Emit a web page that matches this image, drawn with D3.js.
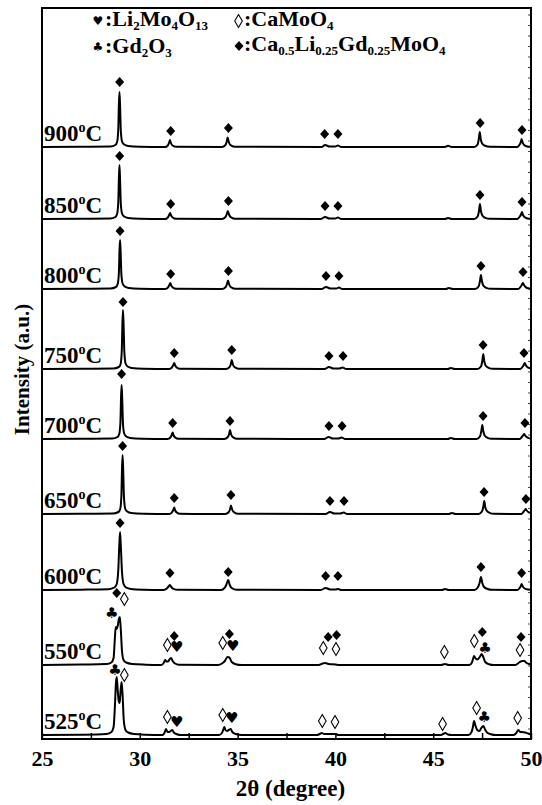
<!DOCTYPE html>
<html>
<head>
<meta charset="utf-8">
<script src="https://cdn.jsdelivr.net/npm/d3@7"></script>
<style>
body { margin: 0; background: #fff; }
text { font-family: "Liberation Serif", "Times New Roman", serif; font-weight: bold; fill: #000; }
</style>
</head>
<body>
<div id="chart"></div>
<script>
// ---- data ----
var thetaTicks = [25, 30, 35, 40, 45, 50];
var tempLabels = ["900", "850", "800", "750", "700", "650", "600", "550", "525"];
// vertical stacking offset of every scan (a.u.)
var offsets = [592, 520, 450, 370, 300, 225, 149, 74, 4];

// scans: [2theta, intensity above own baseline]
var s900 = [[25,0],[27,0.3],[28.5,0.5],[28.75,2],[28.84,5],[28.9,18],[28.93,42],[28.96,55],[28.99,42],[29.03,16],[29.1,5],[29.2,2.5],[29.4,1],[30,0.3],
	[31.3,0],[31.43,1.5],[31.5,4.5],[31.54,7],[31.59,4],[31.67,1.5],[31.85,0.2],
	[34.2,0],[34.37,1.8],[34.44,5],[34.49,9.5],[34.55,5],[34.63,2],[34.85,0.3],
	[39.3,0],[39.47,2],[39.7,0.5],[40.0,0.5],[40.13,1.5],[40.3,0],
	[45.6,0],[45.76,1.2],[45.95,0],
	[47.1,0],[47.27,2.5],[47.33,8],[47.38,15],[47.43,8],[47.5,3.5],[47.65,1.2],[47.9,0.2],
	[49.3,0],[49.42,2.5],[49.48,5],[49.52,8],[49.57,4.5],[49.65,2],[49.8,0.5],[50,0]];
var s850 = [[25,0],[27,0.3],[28.5,0.5],[28.75,2],[28.84,5],[28.9,17],[28.93,40],[28.96,54],[28.99,40],[29.03,15],[29.1,5],[29.2,2.5],[29.4,1],[30,0.3],
	[31.3,0],[31.43,1.5],[31.5,4],[31.55,6],[31.6,3.5],[31.68,1.5],[31.85,0.2],
	[34.2,0],[34.37,1.8],[34.44,4.5],[34.5,8],[34.56,4.5],[34.64,2],[34.85,0.3],
	[39.25,0],[39.47,2],[39.7,0.5],[40.0,0.5],[40.13,1.5],[40.3,0],
	[45.6,0],[45.76,1],[45.95,0],
	[47.1,0],[47.27,2.5],[47.34,8],[47.39,15],[47.44,8],[47.51,3.5],[47.66,1.2],[47.9,0.2],
	[49.3,0],[49.43,2.5],[49.49,4.5],[49.54,7],[49.59,4],[49.67,2],[49.82,0.5],[50,0]];
var s800 = [[25,0],[27,0.3],[28.5,0.5],[28.78,2],[28.87,5],[28.93,16],[28.96,37],[28.99,49],[29.02,37],[29.06,14],[29.13,5],[29.23,2.5],[29.43,1],[30,0.3],
	[31.3,0],[31.44,1.5],[31.51,4],[31.56,6],[31.61,3.5],[31.69,1.5],[31.86,0.2],
	[34.2,0],[34.38,1.8],[34.45,4.5],[34.51,8.5],[34.57,4.5],[34.65,2],[34.86,0.3],
	[39.3,0],[39.52,2],[39.75,0.5],[40.05,0.5],[40.18,1.5],[40.35,0],
	[45.65,0],[45.8,1],[46,0],
	[47.15,0],[47.32,2.5],[47.39,8],[47.44,14],[47.49,8],[47.56,3.5],[47.71,1.2],[47.95,0.2],
	[49.35,0],[49.48,2.5],[49.54,4.5],[49.59,6],[49.64,4],[49.72,2],[49.87,0.5],[50,0]];
var s750 = [[25,0],[27,0.3],[28.65,0.5],[28.93,2],[29.02,5],[29.08,19],[29.11,45],[29.14,59],[29.17,45],[29.21,17],[29.28,5],[29.38,2.5],[29.58,1],[30.2,0.3],
	[31.5,0],[31.64,1.5],[31.71,4],[31.76,6],[31.81,3.5],[31.89,1.5],[32.05,0.2],
	[34.4,0],[34.58,1.8],[34.65,4.5],[34.7,9],[34.76,4.5],[34.84,2],[35.05,0.3],
	[39.45,0],[39.67,2],[39.9,0.5],[40.2,0.5],[40.37,1.5],[40.55,0],
	[45.75,0],[45.9,1],[46.1,0],
	[47.27,0],[47.44,2.5],[47.51,8],[47.56,15],[47.61,8],[47.68,3.5],[47.83,1.2],[48.05,0.2],
	[49.45,0],[49.58,2.5],[49.64,4.5],[49.68,6],[49.73,4],[49.81,2],[49.95,0.8],[50,0.5]];
var s700 = [[25,0],[27,0.3],[28.6,0.5],[28.86,2],[28.95,5],[29.01,17],[29.04,41],[29.07,54],[29.1,41],[29.14,15],[29.21,5],[29.31,2.5],[29.51,1],[30.1,0.3],
	[31.42,0],[31.56,1.5],[31.63,4],[31.68,6.5],[31.73,3.5],[31.81,1.5],[31.97,0.2],
	[34.32,0],[34.49,1.8],[34.56,4.5],[34.61,9],[34.67,4.5],[34.75,2],[34.95,0.3],
	[39.43,0],[39.65,2],[39.87,0.5],[40.15,0.5],[40.32,1.5],[40.5,0],
	[45.75,0],[45.9,1],[46.1,0],
	[47.22,0],[47.39,2.5],[47.46,8],[47.51,14],[47.56,8],[47.63,3.5],[47.78,1.2],[48,0.2],
	[49.42,0],[49.55,2.5],[49.61,4],[49.65,5],[49.7,3.5],[49.78,2],[49.92,0.6],[50,0.4]];
var s650 = [[25,0],[27,0.3],[28.63,0.5],[28.91,2],[29.0,5],[29.06,19],[29.09,45],[29.12,59],[29.15,45],[29.19,17],[29.26,5],[29.36,2.5],[29.56,1],[30.2,0.3],
	[31.5,0],[31.64,1.5],[31.71,4],[31.76,6.5],[31.81,3.5],[31.89,1.5],[32.05,0.2],
	[34.37,0],[34.54,1.8],[34.61,4.5],[34.66,8.5],[34.72,4.5],[34.8,2],[35,0.3],
	[39.5,0],[39.72,2],[39.95,0.5],[40.25,0.5],[40.42,1.5],[40.6,0],
	[45.8,0],[45.95,1],[46.15,0],
	[47.32,0],[47.49,2.5],[47.56,7],[47.61,13],[47.66,7],[47.73,3.5],[47.88,1.2],[48.1,0.2],
	[49.5,0],[49.63,2.5],[49.69,4],[49.73,5],[49.78,3.5],[49.86,2],[50,0.8]];
var s600 = [[25,0],[27,0.3],[28.4,0.8],[28.7,2.5],[28.82,6],[28.9,20],[28.95,44],[28.99,58],[29.03,44],[29.09,18],[29.17,6],[29.3,2.5],[29.55,1],[30.2,0.3],
	[31.2,0],[31.38,1.5],[31.47,3.5],[31.54,5],[31.61,3],[31.72,1.2],[31.95,0.2],
	[34.15,0],[34.33,2],[34.42,5],[34.52,10],[34.6,5],[34.7,2],[34.95,0.3],
	[39.25,0],[39.5,2],[39.75,0.5],[40.0,0.5],[40.13,1],[40.3,0],
	[45.45,0],[45.6,1],[45.8,0],
	[47.1,0],[47.28,2.5],[47.37,7],[47.44,13],[47.51,7],[47.6,3],[47.78,1],[48,0.2],
	[49.3,0],[49.42,2],[49.48,4],[49.52,6],[49.58,3.5],[49.68,1.5],[49.85,0.5],[50,0.3]];
var s550 = [[25,0],[27,0.5],[28.3,1],[28.55,2.5],[28.66,7],[28.72,25],[28.77,38],[28.82,36],[28.87,39],[28.93,46],[28.98,48],[29.03,35],[29.09,14],[29.17,5],[29.3,2.5],[29.6,1],[30.3,0.3],
	[31.1,0],[31.22,2],[31.3,5],[31.36,3.5],[31.44,3.5],[31.52,5.5],[31.6,7],[31.68,4],[31.8,1.5],[32,0.3],
	[34.0,0],[34.2,1.5],[34.35,4],[34.48,8],[34.58,7.5],[34.7,3],[34.9,0.8],[35.2,0],
	[39.15,0],[39.35,1.5],[39.47,2],[39.65,1],[40.0,0.5],[40.2,0],
	[45.4,0],[45.6,1],[45.8,0],
	[46.85,0],[46.98,2.5],[47.05,7],[47.09,9],[47.15,7],[47.25,5.5],[47.38,8],[47.48,11],[47.56,8],[47.66,3],[47.85,0.8],[48.1,0],
	[49.2,0],[49.4,2.5],[49.55,4],[49.65,4],[49.78,2],[49.9,1],[50,0.8]];
var s525 = [[25,0],[27,0.3],[28.3,1],[28.55,3],[28.66,8],[28.73,30],[28.78,52],[28.82,58],[28.87,45],[28.93,33],[28.97,32],[29.02,45],[29.07,53],[29.12,40],[29.18,15],[29.27,5],[29.4,2.5],[29.7,1],[30.3,0.3],
	[31.15,0],[31.26,2],[31.34,6],[31.42,3],[31.5,3],[31.58,4],[31.66,5],[31.74,2.5],[31.9,0.8],[32.1,0],
	[34.05,0],[34.2,2],[34.28,6],[34.32,8],[34.38,5],[34.46,4],[34.55,5],[34.65,6],[34.73,3],[34.9,1],[35.2,0],
	[39.05,0],[39.2,1],[39.3,2],[39.42,1],[39.7,1],[40.0,1],[40.15,0],
	[45.4,0],[45.55,1.5],[45.62,2],[45.75,0.5],[45.95,0],
	[46.8,0],[46.95,2.5],[47.03,8],[47.09,14],[47.15,10],[47.25,5],[47.36,4],[47.46,7],[47.56,9],[47.64,6],[47.75,2.5],[47.95,0.8],[48.2,0],
	[49.1,0],[49.25,2],[49.35,5],[49.45,3],[49.55,3],[49.7,2.5],[49.85,1.5],[50,0.5]];
var scans = [s900, s850, s800, s750, s700, s650, s600, s550, s525];

// phase markers: [type, 2theta, height above own baseline]
// fd = Ca0.5Li0.25Gd0.25MoO4, od = CaMoO4, ht = Li2Mo4O13, cl = Gd2O3
var m900 = [["fd",28.97,65],["fd",31.58,16],["fd",34.53,19],["fd",39.45,13],["fd",40.13,13],["fd",47.4,24],["fd",49.54,17]];
var m850 = [["fd",28.97,63],["fd",31.58,15],["fd",34.53,18],["fd",39.47,13],["fd",40.13,13],["fd",47.39,24],["fd",49.54,17]];
var m800 = [["fd",28.99,58],["fd",31.58,15],["fd",34.53,18],["fd",39.52,13],["fd",40.18,13],["fd",47.44,23],["fd",49.59,17]];
var m750 = [["fd",29.14,67],["fd",31.76,16],["fd",34.7,19],["fd",39.67,13],["fd",40.39,13],["fd",47.55,24],["fd",49.64,16]];
var m700 = [["fd",29.07,65],["fd",31.68,16],["fd",34.61,18],["fd",39.67,13],["fd",40.34,13],["fd",47.55,23],["fd",49.69,16]];
var m650 = [["fd",29.12,68],["fd",31.76,16],["fd",34.66,19],["fd",39.72,13],["fd",40.44,13],["fd",47.6,22],["fd",49.74,15]];
var m600 = [["fd",28.99,67],["fd",31.54,17],["fd",34.52,18],["fd",39.5,14],["fd",40.13,14],["fd",47.44,23],["fd",49.52,17]];
var m550 = [["cl",28.56,52],["fd",28.82,72],["od",29.21,66],
	["od",31.41,20],["fd",31.76,29],["ht",31.89,18],
	["od",34.24,22],["fd",34.58,31],["ht",34.75,19],
	["od",39.38,17],["fd",39.63,28],["od",40.03,16],["fd",40.06,30],
	["od",45.57,13],["od",47.1,24],["fd",47.51,33],["cl",47.65,17],
	["od",49.44,15],["fd",49.49,28]];
var m525 = [["cl",28.73,65],["od",29.21,60],
	["od",31.41,18],["ht",31.89,13],["od",34.24,20],["ht",34.7,17],
	["od",39.33,14],["od",39.98,13],["od",45.48,11],
	["od",47.22,27],["cl",47.61,18],["od",49.32,17]];
var marks = [m900, m850, m800, m750, m700, m650, m600, m550, m525];

// ---- layout ----
var W = 542, H = 805;
var margin = {top: 8, right: 11, bottom: 66, left: 42};

var svg = d3.select("#chart")
	.append("svg")
	.attr("width", W)
	.attr("height", H);

svg.append("rect").attr("width", W).attr("height", H).attr("fill", "#fff");

var x = d3.scaleLinear()
	.domain([25, 50])
	.range([margin.left, W - margin.right]);

var y = d3.scaleLinear()
	.domain([0, 731])
	.range([H - margin.bottom, margin.top]);

// bottom axis, ticks pointing inward
var xAxis = d3.axisBottom(x)
	.tickValues(d3.range(25, 50.1, 2.5))
	.tickSize(-6)
	.tickPadding(11)
	.tickFormat(function (d) { return thetaTicks.indexOf(d) >= 0 ? d : ""; });

var gx = svg.append("g")
	.attr("transform", "translate(0," + (H - margin.bottom) + ")")
	.call(xAxis);
gx.select(".domain").remove();
gx.selectAll("line").attr("stroke", "#000").attr("stroke-width", 1.5);
gx.selectAll("text").style("font-size", "22px");

// small inward ticks on the right edge
var yAxisR = d3.axisLeft(y)
	.tickValues(d3.range(0, 731, 10.5))
	.tickSize(3)
	.tickFormat("");
var gy = svg.append("g")
	.attr("transform", "translate(" + (W - margin.right) + ",0)")
	.call(yAxisR);
gy.select(".domain").remove();
gy.selectAll("line").attr("stroke", "#444").attr("stroke-width", 1);

// scans
var line = d3.line()
	.x(function (d) { return x(d[0]); })
	.curve(d3.curveMonotoneX);

scans.forEach(function (scan, i) {
	var off = offsets[i];
	svg.append("path")
		.datum(scan)
		.attr("fill", "none")
		.attr("stroke", "#000")
		.attr("stroke-width", 2)
		.attr("stroke-linejoin", "round")
		.attr("d", line.y(function (d) { return y(d[1] + off); }));
});

// markers
function drawMark (g, type, cx, cy, fs) {
	if (type == "fd") {
		g.append("path")
			.attr("d", "M" + cx + "," + (cy - 5) + "L" + (cx + 4.5) + "," + cy + "L" + cx + "," + (cy + 5) + "L" + (cx - 4.5) + "," + cy + "Z")
			.attr("fill", "#000");
	} else if (type == "od") {
		g.append("path")
			.attr("d", "M" + cx + "," + (cy - 6.5) + "L" + (cx + 3.8) + "," + cy + "L" + cx + "," + (cy + 6.5) + "L" + (cx - 3.8) + "," + cy + "Z")
			.attr("fill", "#fff")
			.attr("stroke", "#000")
			.attr("stroke-width", 1.1);
	} else {
		g.append("text")
			.attr("x", cx)
			.attr("y", cy)
			.attr("dy", "0.36em")
			.attr("text-anchor", "middle")
			.style("font-family", "'DejaVu Sans'")
			.style("font-weight", "normal")
			.style("font-size", (fs || 15) + "px")
			.text(type == "ht" ? "\u2665" : "\u2663");
	}
}

var gm = svg.append("g");
marks.forEach(function (list, i) {
	list.forEach(function (m) {
		drawMark(gm, m[0], x(m[1]), y(offsets[i] + m[2]));
	});
});

// temperature labels
tempLabels.forEach(function (t, i) {
	var txt = svg.append("text")
		.attr("x", 44)
		.attr("y", y(offsets[i]) - 6)
		.style("font-size", "23px");
	txt.append("tspan").text(t);
	txt.append("tspan").attr("dy", -9).style("font-size", "14px").text("o");
	txt.append("tspan").attr("dy", 9).text("C");
});

// legend
function legendEntry (type, gx, gy, tx, ty, parts) {
	drawMark(svg, type, gx, gy, 12);
	var txt = svg.append("text").attr("x", tx).attr("y", ty).style("font-size", "22px");
	parts.forEach(function (p) {
		if (p[1]) {
			txt.append("tspan").attr("dy", 4).style("font-size", "13px").text(p[0]);
		} else {
			txt.append("tspan").attr("dy", p[2] ? -4 : 0).text(p[0]);
		}
	});
}
legendEntry("ht", 98, 21, 105, 26, [[":Li"], ["2", 1], ["Mo", 0, 1], ["4", 1], ["O", 0, 1], ["13", 1]]);
legendEntry("od", 238.5, 21, 244, 26, [[":CaMoO"], ["4", 1]]);
legendEntry("cl", 98, 47, 105, 53, [[":Gd"], ["2", 1], ["O", 0, 1], ["3", 1]]);
legendEntry("fd", 239, 46, 244, 51, [[":Ca"], ["0.5", 1], ["Li", 0, 1], ["0.25", 1], ["Gd", 0, 1], ["0.25", 1], ["MoO", 0, 1], ["4", 1]]);

// frame
svg.append("rect")
	.attr("x", margin.left)
	.attr("y", margin.top)
	.attr("width", W - margin.left - margin.right)
	.attr("height", H - margin.top - margin.bottom)
	.attr("fill", "none")
	.attr("stroke", "#000")
	.attr("stroke-width", 2);

// axis titles
svg.append("text")
	.attr("x", (margin.left + W - margin.right) / 2 + 4)
	.attr("y", 796)
	.attr("text-anchor", "middle")
	.style("font-size", "23px")
	.text("2\u03b8 (degree)");

svg.append("text")
	.attr("transform", "translate(29," + ((margin.top + H - margin.bottom) / 2 - 4) + ") rotate(-90)")
	.attr("text-anchor", "middle")
	.style("font-size", "21px")
	.text("Intensity (a.u.)");
</script>
</body>
</html>
